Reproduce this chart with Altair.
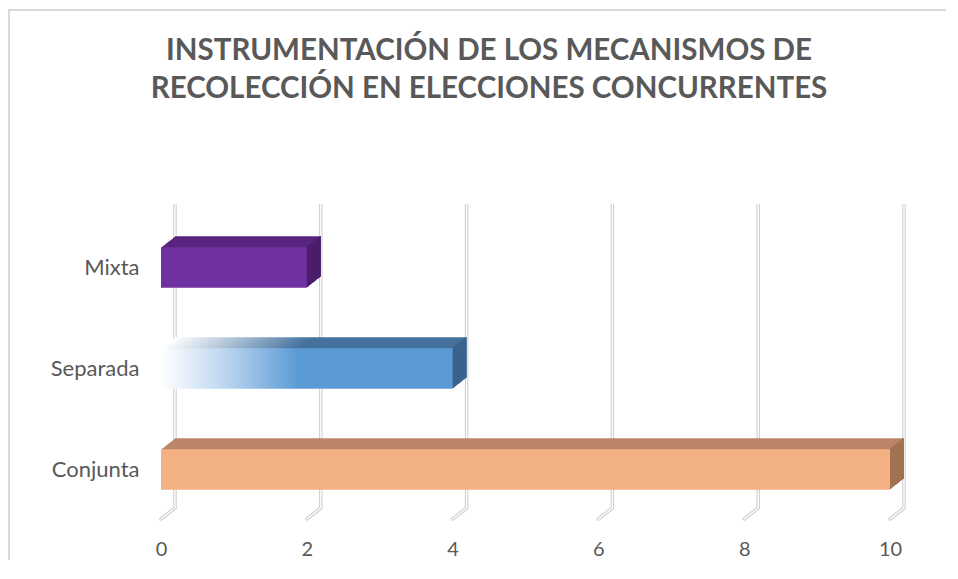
import altair as alt
import pandas as pd

# ---- data ----
categories = ["Mixta", "Separada", "Conjunta"]
values = [2, 4, 10]
ticks = [0, 2, 4, 6, 8, 10]
front_colors = ["#7030a0", "#5b9bd5", "#f4b183"]
top_colors = ["#5a2580", "#44729d", "#ba8667"]
side_colors = ["#4a1c68", "#38628a", "#a37152"]
title_lines = ["INSTRUMENTACIÓN DE LOS MECANISMOS DE",
               "RECOLECCIÓN EN ELECCIONES CONCURRENTES"]

# ---- layout / style ----
W, H = 729, 303
DX, DY = 14, 11   # depth of the 3D extrusion in pixels
N = 14            # steps used to build the extrusion
FONT = "Lato"
TXT = "#595959"

bars = pd.DataFrame({"cat": categories, "val": values})
grid = pd.DataFrame({"t": ticks})
one = grid[grid["t"] == 0]

xs = alt.Scale(domain=[0, 10], nice=False, zero=True)
ys = alt.Scale(domain=categories, paddingInner=0.6, paddingOuter=0.3)
xa = alt.Axis(title=None, values=ticks, grid=False, ticks=False, domain=False,
              labelFlush=False, labelFont=FONT, labelFontSize=20,
              labelColor=TXT, labelPadding=19)
ya = alt.Axis(title=None, grid=False, ticks=False, domain=False,
              labelFont=FONT, labelFontSize=22, labelColor=TXT, labelPadding=22)

Y = alt.Y("cat:N", scale=ys, axis=ya, sort=categories)

layers = []

# outer border (left and top edges only are visible)
layers.append(
    alt.Chart(one).mark_rule(color="#d9d9d9", strokeWidth=2).encode(
        x=alt.value(-152), y=alt.value(-208), y2=alt.value(H + 40)))
layers.append(
    alt.Chart(one).mark_rule(color="#d9d9d9", strokeWidth=2).encode(
        x=alt.value(-153), x2=alt.value(W + 56), y=alt.value(-207)))

# title (two centred lines)
for k, line in enumerate(title_lines):
    layers.append(
        alt.Chart(one).mark_text(
            font=FONT, fontSize=29.5, fontWeight="bold", color=TXT,
            align="center", baseline="middle").encode(
            x=alt.value(328), y=alt.value(-166 + 38 * k), text=alt.value(line)))

# gridlines (back wall + floor diagonal), drawn as a gray tube with white core
for col, sw in (("#d0d0d0", 3.5), ("#ffffff", 1.3)):
    layers.append(
        alt.Chart(grid).mark_rule(color=col, strokeWidth=sw, xOffset=DX).encode(
            x=alt.X("t:Q", scale=xs, axis=xa),
            y=alt.value(-DY - 2), y2=alt.value(H - DY - 1)))
    layers.append(
        alt.Chart(grid).mark_rule(color=col, strokeWidth=sw, strokeCap="round",
                                  xOffset=DX, x2Offset=0).encode(
            x=alt.X("t:Q", scale=xs, axis=xa), x2="t:Q",
            y=alt.value(H - DY - 1), y2=alt.value(H - 1)))


def grad(c_end, mid):
    return alt.Gradient(
        gradient="linear", x1=0, x2=1, y1=0, y2=0,
        stops=[alt.GradientStop(color="#ffffff", offset=0),
               alt.GradientStop(color=mid, offset=0.22),
               alt.GradientStop(color=c_end, offset=0.47),
               alt.GradientStop(color=c_end, offset=1)])


for i, cat in enumerate(categories):
    base = alt.Chart(bars).transform_filter(alt.datum.cat == cat)
    faded = cat == "Separada"
    top_fill = grad(top_colors[i], "#a9bfd4") if faded else top_colors[i]
    front_fill = grad(front_colors[i], "#bcd6ef") if faded else front_colors[i]
    # top face (stack of shifted rects)
    for s in range(N, 0, -1):
        ox, oy = s * DX / N, -s * DY / N
        layers.append(base.mark_bar(color=top_fill, xOffset=ox, x2Offset=ox,
                                    yOffset=oy, y2Offset=oy).encode(
            x=alt.X("val:Q", scale=xs, axis=xa), y=Y))
    # side face
    for s in range(1, N + 1):
        ox, oy = s * DX / N, -s * DY / N
        layers.append(base.mark_bar(color=side_colors[i],
                                    xOffset=ox - DX / N - 0.3, x2Offset=ox,
                                    yOffset=oy, y2Offset=oy).encode(
            x=alt.X("val:Q", scale=xs, axis=xa), x2="val:Q", y=Y))
    # front face
    layers.append(base.mark_bar(color=front_fill).encode(
        x=alt.X("val:Q", scale=xs, axis=xa), y=Y))

chart = alt.layer(*layers).properties(
    width=W, height=H,
    autosize=alt.AutoSizeParams(type="none"),
    padding={"left": 153, "top": 209, "right": 56, "bottom": 40},
).configure_view(stroke=None)

chart.save("out.html", embed_options={"renderer": "svg", "actions": False})
